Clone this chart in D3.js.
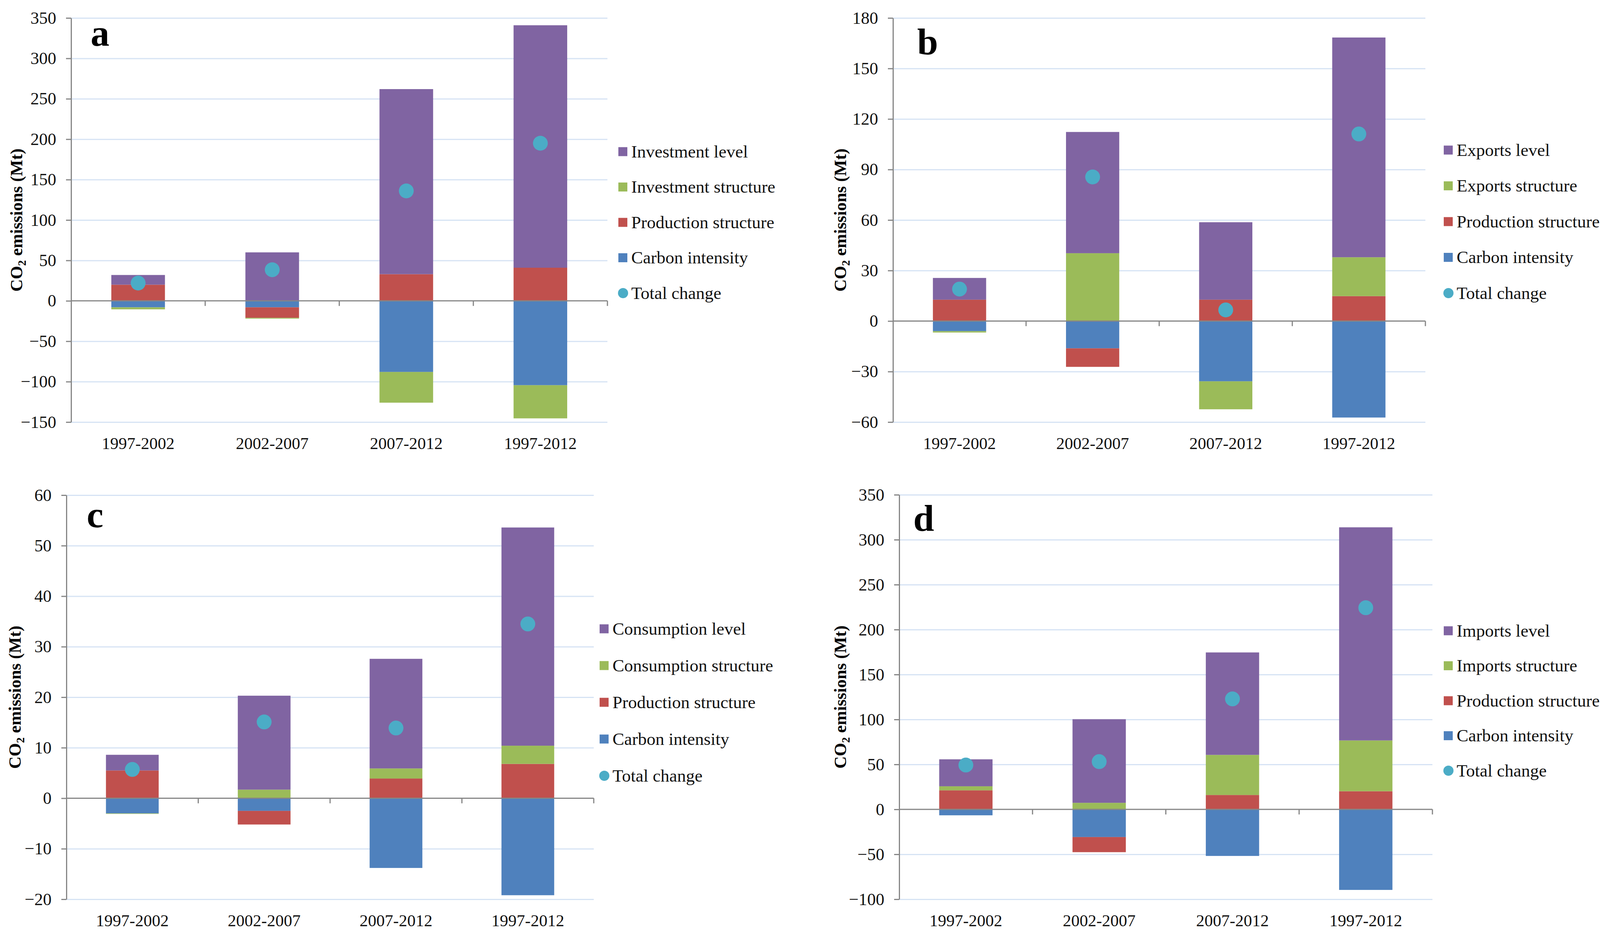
<!DOCTYPE html>
<html>
<head>
<meta charset="utf-8">
<script src="https://cdn.jsdelivr.net/npm/d3@7"></script>
<style>
  body { margin: 0; background: #fff; }
  svg { display: block; font-family: 'Liberation Serif', 'Times New Roman', serif; }
</style>
</head>
<body>
<div id="app"></div>
<script>
const categories = ['1997-2002', '2002-2007', '2007-2012', '1997-2012']

// a: investment
const aCarbon = [-8, -8, -88, -104.4]
const aProduction = [20, -13, 33, 41]
const aStructure = [-2.5, -1, -38, -41]
const aLevel = [12, 60, 229, 300]
const aTotal = [22, 38.5, 136, 195]
const aTicks = [-150, -100, -50, 0, 50, 100, 150, 200, 250, 300, 350]

// b: exports
const bCarbon = [-6, -16.2, -35.8, -57.3]
const bProduction = [12.7, -11, 12.7, 14.8]
const bStructure = [-0.8, 40.3, -16.6, 23.1]
const bLevel = [12.9, 72, 46, 130.5]
const bTotal = [19, 85.6, 6.6, 111.1]
const bTicks = [-60, -30, 0, 30, 60, 90, 120, 150, 180]

// c: consumption
const cCarbon = [-3.0, -2.5, -13.8, -19.2]
const cProduction = [5.5, -2.7, 3.9, 6.8]
const cStructure = [-0.1, 1.7, 2.0, 3.6]
const cLevel = [3.1, 18.6, 21.7, 43.2]
const cTotal = [5.7, 15.1, 13.9, 34.5]
const cTicks = [-20, -10, 0, 10, 20, 30, 40, 50, 60]

// d: imports
const dCarbon = [-6.6, -30.8, -51.8, -89.6]
const dProduction = [21.2, -16.8, 16.0, 20.2]
const dStructure = [4.5, 7.3, 44.6, 56.5]
const dLevel = [30, 93, 114, 237.1]
const dTotal = [49.3, 53.1, 122.9, 224.3]
const dTicks = [-100, -50, 0, 50, 100, 150, 200, 250, 300, 350]

const W = 4117
const H = 2395

const keys = ['carbon', 'production', 'structure', 'level']
const colors = { carbon: '#4F81BD', production: '#C0504D', structure: '#9BBB59', level: '#8064A2' }
const dotColor = '#4BACC6'
const axisColor = '#868686'
const gridColor = '#D6E3F4'

const panels = [
  { letter: 'a', driver: 'Investment', carbon: aCarbon, production: aProduction, structure: aStructure, level: aLevel, total: aTotal, ticks: aTicks,
    x0: 182, x1: 1555, y0: 46, y1: 1080, titleX: 43, legX: 1583, legY: 388, legStep: 90.5, letterX: 232, letterY: 117 },
  { letter: 'b', driver: 'Exports', carbon: bCarbon, production: bProduction, structure: bStructure, level: bLevel, total: bTotal, ticks: bTicks,
    x0: 2286, x1: 3649, y0: 46, y1: 1080, titleX: 2152, legX: 3696, legY: 384, legStep: 91.5, letterX: 2348, letterY: 139 },
  { letter: 'c', driver: 'Consumption', carbon: cCarbon, production: cProduction, structure: cStructure, level: cLevel, total: cTotal, ticks: cTicks,
    x0: 170, x1: 1520, y0: 1267, y1: 2301, titleX: 39, legX: 1535, legY: 1609, legStep: 94, letterX: 222, letterY: 1349 },
  { letter: 'd', driver: 'Imports', carbon: dCarbon, production: dProduction, structure: dStructure, level: dLevel, total: dTotal, ticks: dTicks,
    x0: 2302, x1: 3667, y0: 1266, y1: 2301, titleX: 2152, legX: 3696, legY: 1614, legStep: 89.5, letterX: 2338, letterY: 1358 }
]

const svg = d3.select('#app')
  .append('svg')
  .attr('width', W)
  .attr('height', H)

svg.append('rect').attr('width', W).attr('height', H).attr('fill', '#fff')

panels.forEach(p => {
  const g = svg.append('g')

  const rows = categories.map((c, i) => ({
    cat: c, carbon: p.carbon[i], production: p.production[i], structure: p.structure[i], level: p.level[i], total: p.total[i]
  }))
  const series = d3.stack().keys(keys).offset(d3.stackOffsetDiverging)(rows)

  const x = d3.scaleBand()
    .domain(categories)
    .range([p.x0, p.x1])
    .paddingInner(0.6)
    .paddingOuter(0.3)
  const y = d3.scaleLinear()
    .domain(d3.extent(p.ticks))
    .range([p.y1, p.y0])

  // gridlines
  g.append('g')
    .attr('transform', `translate(${p.x0},0)`)
    .call(d3.axisLeft(y).tickValues(p.ticks.filter(t => t !== 0)).tickSize(-(p.x1 - p.x0)).tickFormat(''))
    .call(s => s.select('.domain').remove())
    .selectAll('line')
    .attr('stroke', gridColor)
    .attr('stroke-width', 3)

  // stacked bars
  g.append('g')
    .selectAll('g')
    .data(series)
    .enter()
    .append('g')
    .attr('fill', s => colors[s.key])
    .selectAll('rect')
    .data(s => s)
    .enter()
    .append('rect')
    .attr('x', d => x(d.data.cat))
    .attr('width', x.bandwidth())
    .attr('y', d => y(Math.max(d[0], d[1])))
    .attr('height', d => Math.abs(y(d[0]) - y(d[1])))

  // y axis
  const yAxis = g.append('g')
    .attr('transform', `translate(${p.x0},0)`)
    .call(d3.axisLeft(y).tickValues(p.ticks).tickSize(13).tickSizeOuter(0).tickPadding(25))
  yAxis.select('.domain').attr('stroke', axisColor).attr('stroke-width', 3)
  yAxis.selectAll('.tick line').attr('stroke', axisColor).attr('stroke-width', 3)
  yAxis.selectAll('text')
    .attr('fill', '#111')
    .style('font-size', '44px')
    .style('font-family', "'Liberation Serif', serif")

  // zero line with category ticks
  const zy = y(0)
  g.append('line')
    .attr('x1', p.x0).attr('x2', p.x1)
    .attr('y1', zy).attr('y2', zy)
    .attr('stroke', axisColor).attr('stroke-width', 3)
  g.append('g')
    .selectAll('line')
    .data(categories)
    .enter()
    .append('line')
    .attr('x1', d => x(d) + x.bandwidth() + x.step() * 0.3)
    .attr('x2', d => x(d) + x.bandwidth() + x.step() * 0.3)
    .attr('y1', zy).attr('y2', zy + 13)
    .attr('stroke', axisColor).attr('stroke-width', 3)

  // category labels
  const xAxis = g.append('g')
    .attr('transform', `translate(0,${p.y1})`)
    .call(d3.axisBottom(x).tickSize(0).tickPadding(38))
  xAxis.select('.domain').remove()
  xAxis.selectAll('text')
    .attr('fill', '#111')
    .style('font-size', '43px')
    .style('font-family', "'Liberation Serif', serif")

  // total change dots
  g.append('g')
    .selectAll('circle')
    .data(rows)
    .enter()
    .append('circle')
    .attr('cx', d => x(d.cat) + x.bandwidth() / 2)
    .attr('cy', d => y(d.total))
    .attr('r', 19)
    .attr('fill', dotColor)

  // y title
  const title = g.append('text')
    .attr('transform', `translate(${p.titleX + 14},${(p.y0 + p.y1) / 2}) rotate(-90)`)
    .attr('text-anchor', 'middle')
    .style('font-size', '44px')
    .style('font-weight', 'bold')
  title.append('tspan').text('CO')
  title.append('tspan').text('2').style('font-size', '29px').attr('dy', 9)
  title.append('tspan').text(' emissions (Mt)').attr('dy', -9)

  // panel letter
  g.append('text')
    .attr('x', p.letterX)
    .attr('y', p.letterY)
    .style('font-size', '96px')
    .style('font-weight', 'bold')
    .text(p.letter)

  // legend
  const legendItems = [
    { label: p.driver + ' level', color: colors.level, shape: 'rect' },
    { label: p.driver + ' structure', color: colors.structure, shape: 'rect' },
    { label: 'Production structure', color: colors.production, shape: 'rect' },
    { label: 'Carbon intensity', color: colors.carbon, shape: 'rect' },
    { label: 'Total change', color: dotColor, shape: 'circle' }
  ]
  const legend = g.append('g')
    .selectAll('g')
    .data(legendItems)
    .enter()
    .append('g')
    .attr('transform', (d, i) => `translate(${p.legX},${p.legY + i * p.legStep})`)
  legend.filter(d => d.shape === 'rect')
    .append('rect')
    .attr('x', 0).attr('y', -11.5)
    .attr('width', 23).attr('height', 23)
    .attr('fill', d => d.color)
  legend.filter(d => d.shape === 'circle')
    .append('circle')
    .attr('cx', 12).attr('cy', 0).attr('r', 13)
    .attr('fill', d => d.color)
  legend.append('text')
    .attr('x', 33)
    .attr('dy', '0.33em')
    .attr('fill', '#111')
    .style('font-size', '45px')
    .text(d => d.label)
})
</script>
</body>
</html>
